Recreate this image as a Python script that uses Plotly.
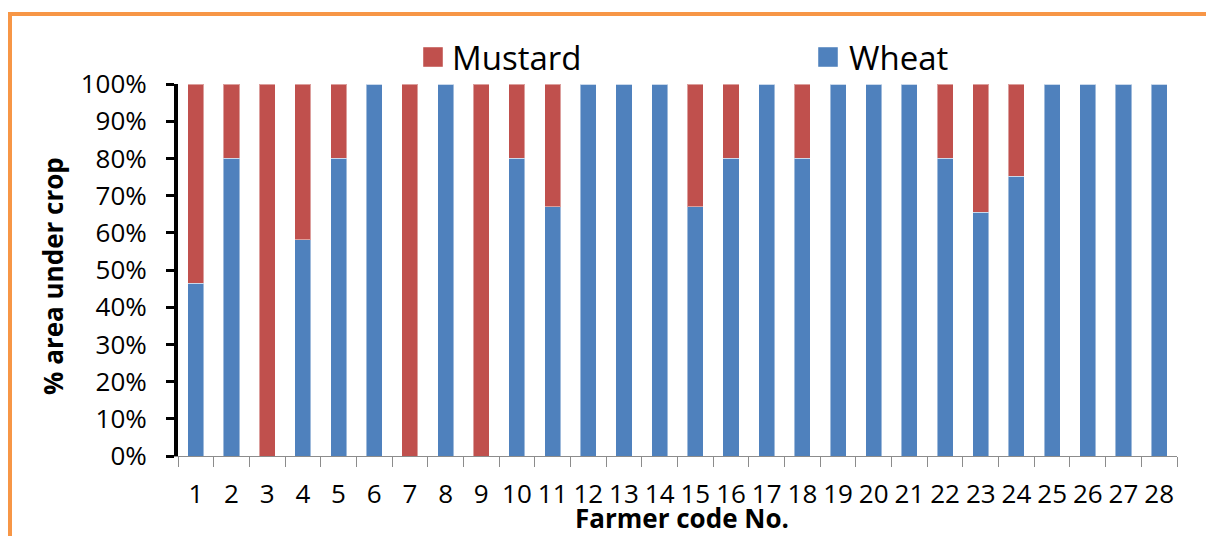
import plotly.graph_objects as go

farmers = [str(i) for i in range(1, 29)]
wheat = [46.4, 80, 0, 58.2, 80, 100, 0, 100, 0, 80, 67, 100, 100, 100,
         67, 80, 100, 80, 100, 100, 100, 80, 65.5, 75.2, 100, 100, 100, 100]
mustard = [53.6, 20, 100, 41.8, 20, 0, 100, 0, 100, 20, 33, 0, 0, 0,
           33, 20, 0, 20, 0, 0, 0, 20, 34.5, 24.8, 0, 0, 0, 0]
series_names = ["Mustard", "Wheat"]
series_colors = ["#C0504D", "#4F81BD"]
y_ticks = [0, 10, 20, 30, 40, 50, 60, 70, 80, 90, 100]
x_title = "Farmer code No."
y_title = "% area under crop"

W, H = 1206, 536
ML, MR, MT, MB = 178, 29, 84, 80
pw = W - ML - MR
ph = H - MT - MB


def px_x(p):
    return (p - ML) / pw


def px_y(p):
    return (H - MB - p) / ph


FONT = "Open Sans"

fig = go.Figure()
fig.add_trace(go.Bar(x=farmers, y=wheat, name=series_names[1],
                     marker=dict(color=series_colors[1],
                                 line=dict(color="rgba(255,255,255,0.45)", width=1)),
                     width=0.45, showlegend=False))
fig.add_trace(go.Bar(x=farmers, y=mustard, name=series_names[0],
                     marker=dict(color=series_colors[0],
                                 line=dict(color="rgba(255,255,255,0.45)", width=1)),
                     width=0.45, showlegend=False))

shapes = []
# orange frame (top + left, cropped)
frame_color = "#F79646"
shapes.append(dict(type="line", xref="paper", yref="paper",
                   x0=px_x(10), x1=px_x(W + 20), y0=px_y(14), y1=px_y(14),
                   line=dict(color=frame_color, width=4)))
shapes.append(dict(type="line", xref="paper", yref="paper",
                   x0=px_x(10), x1=px_x(10), y0=px_y(12), y1=px_y(H + 20),
                   line=dict(color=frame_color, width=4)))

# manual legend
legend_items = [(series_names[0], series_colors[0], 423, 450),
                (series_names[1], series_colors[1], 818, 847)]
annotations = []
for name, col, sx, tx in legend_items:
    shapes.append(dict(type="rect", xref="paper", yref="paper",
                       x0=px_x(sx), x1=px_x(sx + 20), y0=px_y(47), y1=px_y(67),
                       fillcolor=col, line=dict(color="rgba(255,255,255,0.45)", width=1)))
    annotations.append(dict(xref="paper", yref="paper", x=px_x(tx), y=px_y(57),
                            text=name, showarrow=False, xanchor="left", yanchor="middle",
                            font=dict(family=FONT, size=33, color="#000")))

# axis titles
annotations.append(dict(xref="paper", yref="paper", x=px_x(682), y=px_y(518),
                        text=f"<b>{x_title}</b>", showarrow=False,
                        xanchor="center", yanchor="middle",
                        font=dict(family=FONT, size=26, color="#000")))
annotations.append(dict(xref="paper", yref="paper", x=px_x(53), y=px_y(276),
                        text=f"<b>{y_title}</b>", showarrow=False, textangle=-90,
                        xanchor="center", yanchor="middle",
                        font=dict(family=FONT, size=26, color="#000")))

fig.update_layout(
    width=W, height=H,
    margin=dict(l=ML, r=MR, t=MT, b=MB, pad=0),
    barmode="stack",
    bargap=0.55,
    plot_bgcolor="white", paper_bgcolor="white",
    font=dict(family=FONT, color="#000"),
    shapes=shapes,
    annotations=annotations,
    xaxis=dict(
        type="category",
        showline=True, linecolor="#8C8C8C", linewidth=1,
        ticks="outside", ticklen=10, tickwidth=1, tickcolor="#8C8C8C",
        tickson="boundaries",
        tickangle=0,
        tickfont=dict(family=FONT, size=26, color="#000"),
        ticklabelstandoff=15,
        showgrid=False,
    ),
    yaxis=dict(
        range=[0, 100],
        tickvals=y_ticks,
        ticktext=[f"{v}%" for v in y_ticks],
        showline=True, linecolor="#000", linewidth=4,
        ticks="outside", ticklen=8, tickwidth=3, tickcolor="#000",
        tickfont=dict(family=FONT, size=26, color="#000"),
        ticklabelstandoff=14,
        showgrid=False, zeroline=False,
    ),
)

fig.write_html("out.html")
